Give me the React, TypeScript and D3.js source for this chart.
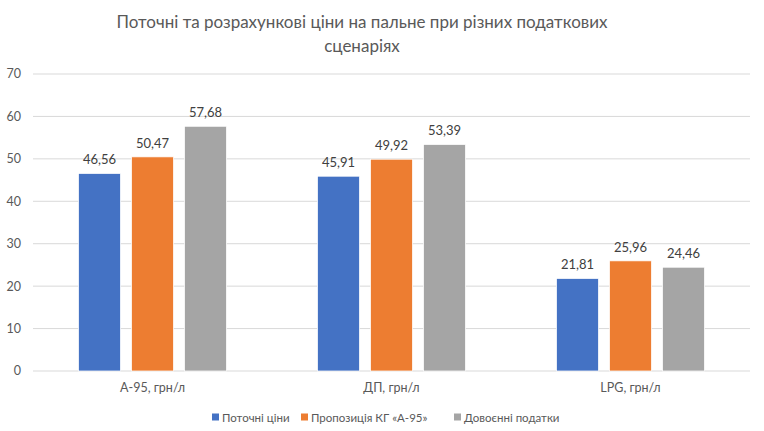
import React, { useMemo } from "react";
import * as d3 from "d3";

const WIDTH = 764;
const HEIGHT = 431;
const MARGIN = { top: 74, right: 14, bottom: 60, left: 33 };

const categories = ["A-95, грн/л", "ДП, грн/л", "LPG, грн/л"];
const seriesNames = ["Поточні ціни", "Пропозиція КГ «А-95»", "Довоєнні податки"];
const currentPrices = [46.56, 45.91, 21.81];
const proposalPrices = [50.47, 49.92, 25.96];
const prewarPrices = [57.68, 53.39, 24.46];
const yTicks = [0, 10, 20, 30, 40, 50, 60, 70];
const colors = ["#4472C4", "#ED7D31", "#A5A5A5"];

const FONT = "Lato, 'Open Sans', sans-serif";

export default function App() {
  document.body.style.margin = "0";
  const boundsWidth = WIDTH - MARGIN.left - MARGIN.right;
  const boundsHeight = 371 - MARGIN.top;
  const series = [currentPrices, proposalPrices, prewarPrices];

  const xScale = useMemo(
    () => d3.scaleBand().domain(categories).range([0, boundsWidth]).padding(0),
    [boundsWidth]
  );
  const subScale = useMemo(
    () =>
      d3
        .scaleBand()
        .domain(seriesNames)
        .range([0, xScale.bandwidth()])
        .paddingInner(0.2075)
        .paddingOuter(0.858),
    [xScale]
  );
  const yScale = useMemo(
    () => d3.scaleLinear().domain([0, 70]).range([boundsHeight, 0]),
    [boundsHeight]
  );

  const fmt = (v: number) => v.toFixed(2).replace(".", ",");

  const legendX = [212, 301, 454];

  return (
    <svg width={WIDTH} height={HEIGHT} style={{ display: "block", background: "#fff" }}>
      <g fontFamily={FONT} fill="#595959" textAnchor="middle" fontSize={17}>
        <text x={362} y={28}>Поточні та розрахункові ціни на пальне при різних податкових</text>
        <text x={362} y={52}>сценаріях</text>
      </g>
      <g transform={`translate(${MARGIN.left},${MARGIN.top})`}>
        {yTicks.map((t) => (
          <g key={t}>
            <line x1={0} x2={boundsWidth} y1={yScale(t)} y2={yScale(t)} stroke="#D9D9D9" strokeWidth={1} />
            <text
              x={-12}
              y={yScale(t)}
              dy="0.35em"
              textAnchor="end"
              fontFamily={FONT}
              fontSize={12.5}
              fill="#595959"
            >
              {t}
            </text>
          </g>
        ))}
        {categories.map((c, ci) => (
          <g key={c} transform={`translate(${xScale(c)},0)`}>
            {series.map((vals, si) => {
              const x = subScale(seriesNames[si]) as number;
              const y = yScale(vals[ci]);
              return (
                <g key={si}>
                  <rect
                    x={x}
                    y={y}
                    width={subScale.bandwidth()}
                    height={boundsHeight - y}
                    fill={colors[si]}
                    stroke="#ffffff"
                    strokeWidth={0.75}
                  />
                  <text
                    x={x + subScale.bandwidth() / 2}
                    y={y - 9}
                    textAnchor="middle"
                    fontFamily={FONT}
                    fontSize={13}
                    fill="#404040"
                  >
                    {fmt(vals[ci])}
                  </text>
                </g>
              );
            })}
            <text
              x={xScale.bandwidth() / 2}
              y={boundsHeight + 21}
              textAnchor="middle"
              fontFamily={FONT}
              fontSize={12.5}
              fill="#595959"
            >
              {c}
            </text>
          </g>
        ))}
      </g>
      <g fontFamily={FONT} fontSize={11.5} fill="#595959">
        {seriesNames.map((s, i) => (
          <g key={s} transform={`translate(${legendX[i]},422)`}>
            <rect x={0} y={-8.5} width={7} height={7} fill={colors[i]} />
            <text x={10} y={0}>
              {s}
            </text>
          </g>
        ))}
      </g>
    </svg>
  );
}
